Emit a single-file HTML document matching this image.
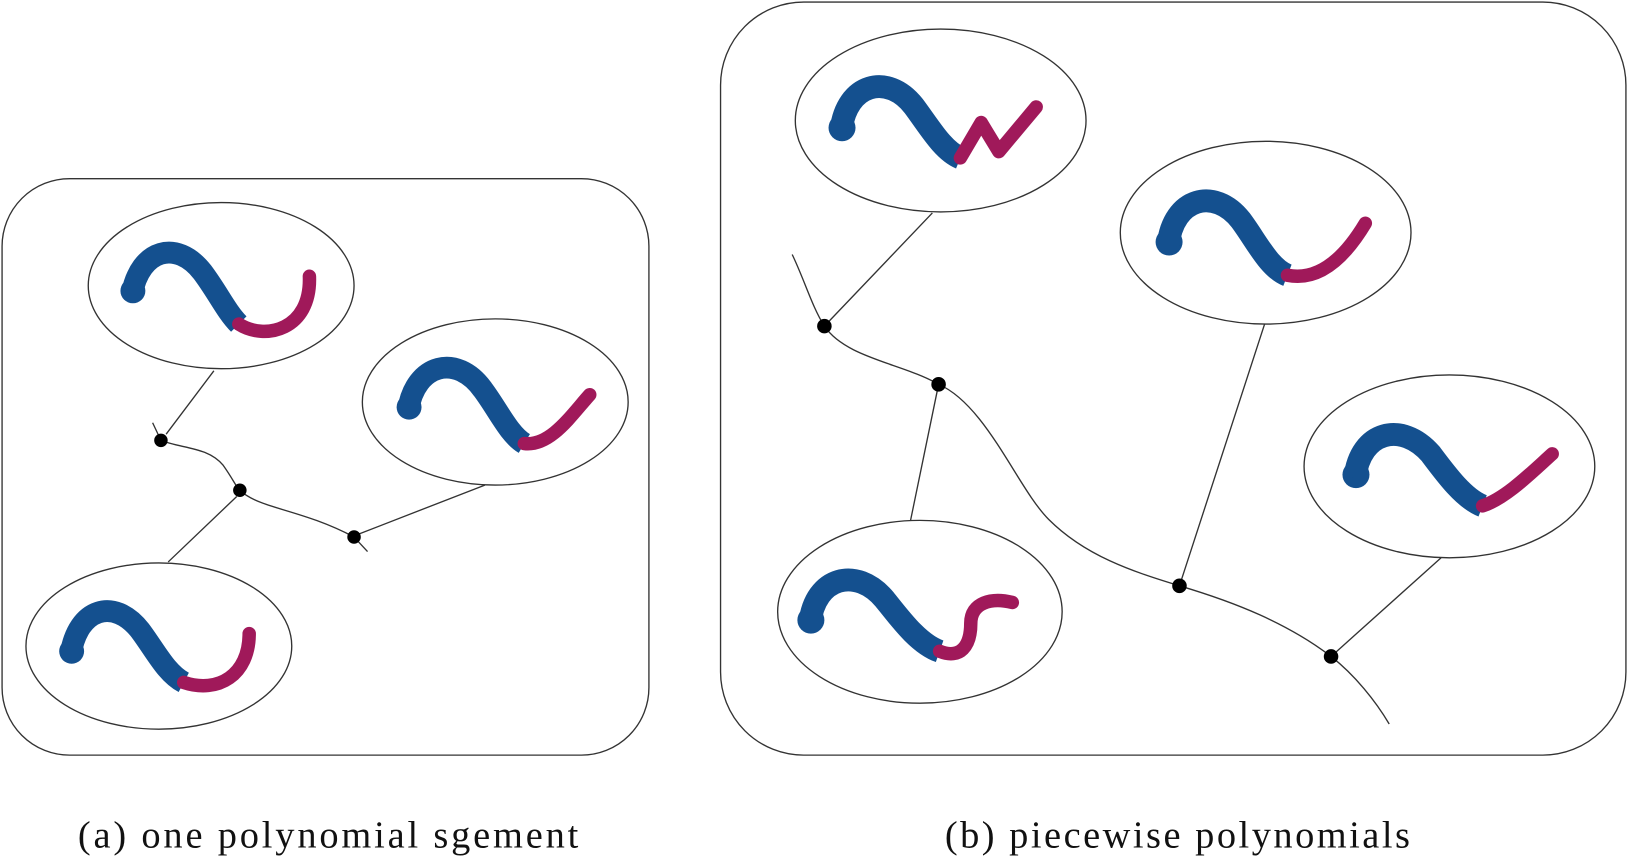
<!DOCTYPE html>
<html><head><style>html,body{margin:0;padding:0;background:#fff;overflow:hidden}</style></head>
<body>
<svg width="1628" height="859" viewBox="0 0 1568 827" preserveAspectRatio="none" xmlns="http://www.w3.org/2000/svg">
<g fill="none" stroke="#333" stroke-width="1.3">
<rect x="2" y="172" width="623" height="555" rx="65"/>
<rect x="694" y="2" width="872" height="725" rx="80"/>
<ellipse cx="213" cy="275" rx="128" ry="80"/>
<ellipse cx="477" cy="387" rx="128" ry="80"/>
<ellipse cx="153" cy="622" rx="128" ry="80"/>
<path d="M147,407 L155,424 C175,432 200,430 215,448 C225,462 228,470 231,472 C250,490 290,490 341,517 L354,531"/>
<path d="M206,357 L160,418 M467,467 L346,514 M162,541 L228,478"/>
<ellipse cx="906" cy="116" rx="140" ry="88"/>
<ellipse cx="1219" cy="224" rx="140" ry="88"/>
<ellipse cx="1396" cy="449" rx="140" ry="88"/>
<ellipse cx="886" cy="589" rx="137" ry="88"/>
<path d="M763,245 C775,270 782,295 794,314 C815,345 870,350 904,370 C950,390 980,470 1010,500 C1045,535 1090,550 1136,564 C1190,580 1240,600 1282,632 C1305,650 1325,675 1338,697"/>
<path d="M898,205 L794,314 M877,501 L904,370 M1218,312 L1136,564 M1388,537 L1282,632"/>
</g>
<g fill="#000">
<circle cx="155" cy="424" r="6.5"/><circle cx="231" cy="472" r="6.5"/><circle cx="341" cy="517" r="6.5"/>
<circle cx="794" cy="314" r="7"/><circle cx="904" cy="370" r="7"/><circle cx="1136" cy="564" r="7"/><circle cx="1282" cy="632" r="7"/>
</g>
<g fill="none" stroke-linecap="butt">
<g fill="#14508f"><circle cx="128" cy="280" r="12"/><circle cx="394" cy="392" r="12"/><circle cx="69" cy="627" r="12"/><circle cx="811" cy="123" r="13"/><circle cx="1126" cy="233" r="13"/><circle cx="1306" cy="457" r="13"/><circle cx="781" cy="597" r="13"/></g>
<path d="M127,283 C135,240 170,230 195,262 C210,282 218,300 230,312" stroke="#14508f" stroke-width="21"/>
<path d="M230,312 C255,328 300,318 298,266" stroke="#a0195a" stroke-width="13" stroke-linecap="round"/>
<path d="M393,395 C400,350 440,340 465,375 C480,395 490,418 505,427" stroke="#14508f" stroke-width="21"/>
<path d="M505,427 C530,430 550,400 568,380" stroke="#a0195a" stroke-width="13" stroke-linecap="round"/>
<path d="M68,630 C75,585 110,575 135,607 C150,627 160,648 177,657" stroke="#14508f" stroke-width="21"/>
<path d="M177,657 C210,668 240,650 240,610" stroke="#a0195a" stroke-width="13" stroke-linecap="round"/>
<path d="M810,126 C815,80 855,70 880,102 C895,122 908,145 925,152" stroke="#14508f" stroke-width="22"/>
<path d="M925,152 L945,118 L962,146 L998,103" stroke="#a0195a" stroke-width="13" stroke-linejoin="round" stroke-linecap="round"/>
<path d="M1125,236 C1130,190 1170,180 1195,212 C1210,232 1222,258 1240,265" stroke="#14508f" stroke-width="22"/>
<path d="M1240,265 C1275,272 1300,240 1315,215" stroke="#a0195a" stroke-width="13" stroke-linecap="round"/>
<path d="M1305,460 C1310,415 1350,405 1378,437 C1393,457 1410,480 1428,487" stroke="#14508f" stroke-width="22"/>
<path d="M1428,487 C1450,480 1475,455 1495,437" stroke="#a0195a" stroke-width="13" stroke-linecap="round"/>
<path d="M780,600 C785,555 825,545 852,577 C868,597 885,620 905,627" stroke="#14508f" stroke-width="22"/>
<path d="M905,627 C925,635 935,622 935,600 C935,580 955,575 975,580" stroke="#a0195a" stroke-width="13" stroke-linecap="round"/>
</g>
<g font-family="'Liberation Serif', serif" font-size="37" fill="#111">
<text x="75" y="816" textLength="482" lengthAdjust="spacing">(a) one polynomial sgement</text>
<text x="910" y="816" textLength="448" lengthAdjust="spacing">(b) piecewise polynomials</text>
</g>
</svg>
</body></html>
